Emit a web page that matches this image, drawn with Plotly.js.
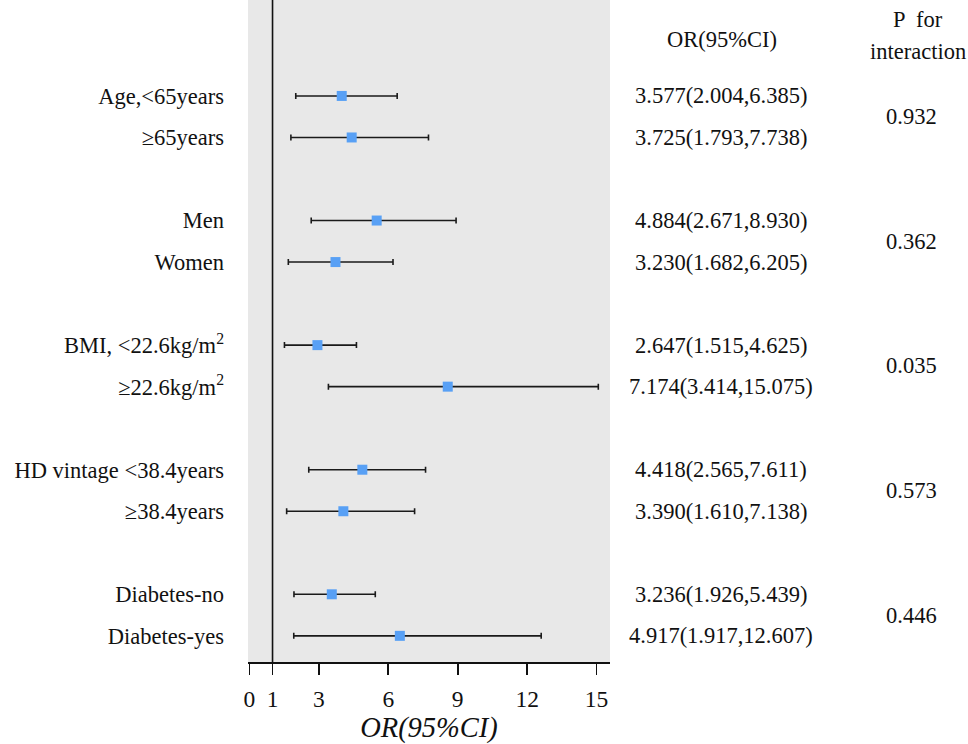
<!DOCTYPE html>
<html>
<head>
<meta charset="utf-8">
<script src="https://cdn.plot.ly/plotly-3.0.1.min.js"></script>
<style>html,body{margin:0;padding:0;background:#fff;}#chart{width:968px;height:744px;}</style>
</head>
<body>
<div id="chart"></div>
<script>
// ---- data ----
var labels = ["Age,&lt;65years", "≥65years", "Men", "Women",
  "BMI, &lt;22.6kg/m<sup>2</sup>", "≥22.6kg/m<sup>2</sup>",
  "HD vintage &lt;38.4years", "≥38.4years", "Diabetes-no", "Diabetes-yes"];
var groupSize = [2, 2, 2, 2, 2];
var orValue = [3.577, 3.725, 4.884, 3.230, 2.647, 7.174, 4.418, 3.390, 3.236, 4.917];
var ciLow = [2.004, 1.793, 2.671, 1.682, 1.515, 3.414, 2.565, 1.610, 1.926, 1.917];
var ciHigh = [6.385, 7.738, 8.930, 6.205, 4.625, 15.075, 7.611, 7.138, 5.439, 12.607];
// marker positions as drawn in the figure
var markerPos = [3.99, 4.42, 5.50, 3.72, 2.94, 8.57, 4.88, 4.06, 3.56, 6.50];
var pInteraction = ["0.932", "0.362", "0.035", "0.573", "0.446"];
var xTicks = [0, 1, 3, 6, 9, 12, 15];
var refValue = 1;

// ---- row positions from group structure (one blank row between groups) ----
var rowY = [], groupMid = [];
var r = 0;
groupSize.forEach(function (n) {
  var start = r;
  for (var k = 0; k < n; k++) { rowY.push(r); r++; }
  groupMid.push((start + r - 1) / 2);
  r++;
});

var F = "Liberation Serif, Times New Roman, serif";
var fs = 22.5;

var orText = orValue.map(function (v, i) {
  return v.toFixed(3) + "(" + ciLow[i].toFixed(3) + "," + ciHigh[i].toFixed(3) + ")";
});

var trace = {
  type: "scatter", mode: "markers",
  x: markerPos, y: rowY,
  marker: { symbol: "square", size: 10, color: "#58a0f5" },
  error_x: {
    type: "data", symmetric: false,
    array: markerPos.map(function (m, i) { return ciHigh[i] - m; }),
    arrayminus: markerPos.map(function (m, i) { return m - ciLow[i]; }),
    color: "#1a1a1a", thickness: 1.6, width: 3
  },
  hoverinfo: "skip", showlegend: false
};

var annotations = [];
var pxToPaper = function (px) { return (px - 248) / (968 - 248 - 358); };
rowY.forEach(function (y, i) {
  annotations.push({ xref: "paper", yref: "y", x: pxToPaper(721), y: y, text: orText[i],
    showarrow: false, xanchor: "center", yanchor: "middle", font: { family: F, size: fs, color: "#111" } });
});
groupMid.forEach(function (y, i) {
  annotations.push({ xref: "paper", yref: "y", x: pxToPaper(911), y: y, text: pInteraction[i],
    showarrow: false, xanchor: "center", yanchor: "middle", font: { family: F, size: fs, color: "#111" } });
});
annotations.push({ xref: "paper", yref: "y", x: pxToPaper(722), y: -1.35, text: "OR(95%CI)",
  showarrow: false, xanchor: "center", yanchor: "middle", font: { family: F, size: fs, color: "#111" } });
annotations.push({ xref: "paper", yref: "y", x: pxToPaper(918), y: -1.85, text: "P  for",
  showarrow: false, xanchor: "center", yanchor: "middle", font: { family: F, size: fs, color: "#111" } });
annotations.push({ xref: "paper", yref: "y", x: pxToPaper(918), y: -1.08, text: "interaction",
  showarrow: false, xanchor: "center", yanchor: "middle", font: { family: F, size: fs, color: "#111" } });

var layout = {
  width: 968, height: 744,
  margin: { l: 248, r: 358, t: 0, b: 82 },
  paper_bgcolor: "#ffffff", plot_bgcolor: "#e8e8e8",
  font: { family: F, size: fs, color: "#111" },
  xaxis: {
    range: [-0.06, 15.58], tickvals: xTicks, ticktext: xTicks.map(String),
    showgrid: false, zeroline: false, showline: true, linecolor: "#111", linewidth: 1.6,
    ticks: "outside", ticklen: 11, tickwidth: 1.6, tickcolor: "#111",
    ticklabelstandoff: 4,
    tickfont: { family: F, size: 23.5, color: "#111" },
    title: { text: "<i>OR(95%CI)</i>", font: { family: F, size: 28.5, color: "#111" }, standoff: 12 }
  },
  yaxis: {
    range: [13.63, -2.31], tickvals: rowY, ticktext: labels,
    showgrid: false, zeroline: false, showline: false, ticks: "",
    ticklabelstandoff: 23,
    tickfont: { family: F, size: fs, color: "#111" }
  },
  shapes: [{ type: "line", xref: "x", yref: "paper", x0: refValue, x1: refValue, y0: 0, y1: 1,
    line: { color: "#111", width: 1.6 } }],
  annotations: annotations
};

Plotly.newPlot("chart", [trace], layout, { displayModeBar: false, staticPlot: true });
</script>
</body>
</html>
